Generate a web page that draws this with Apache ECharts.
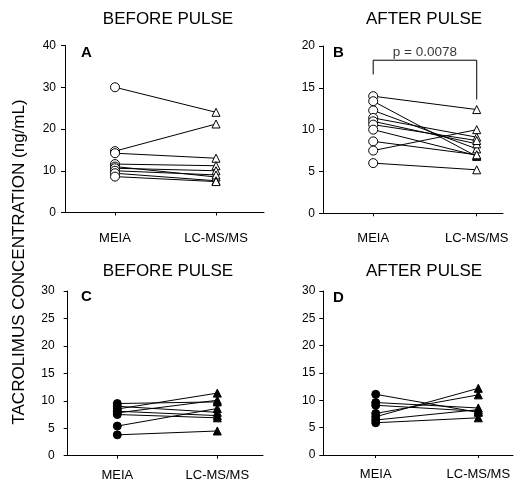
<!DOCTYPE html>
<html>
<head>
<meta charset="utf-8">
<script src="https://cdn.jsdelivr.net/npm/echarts@6/dist/echarts.min.js"></script>
<style>
  html, body { margin: 0; padding: 0; background: #fff; }
  #chart { width: 515px; height: 479px; }
</style>
</head>
<body>
<div id="chart"></div>
<script>
// ---- data ----
const categories = ['MEIA', 'LC-MS/MS'];
const panelTitles = ['BEFORE PULSE', 'AFTER PULSE', 'BEFORE PULSE', 'AFTER PULSE'];
const panelLetters = ['A', 'B', 'C', 'D'];
const yAxisTitle = 'TACROLIMUS CONCENTRATION (ng/mL)';

const aMEIA = [30.0, 14.7, 14.2, 11.6, 11.0, 10.6, 10.0, 9.4, 8.6];
const aLCMS = [24.0, 21.2, 13.0, 11.2, 8.5, 10.0, 9.0, 7.6, 7.4];

const bMEIA = [14.0, 13.4, 12.3, 11.4, 11.0, 10.6, 10.0, 8.6, 7.5, 6.0];
const bLCMS = [12.4, 6.8, 7.7, 9.1, 8.3, 8.7, 6.9, 7.0, 10.0, 5.2];

const cMEIA = [9.5, 9.0, 8.5, 8.1, 7.8, 7.5, 5.4, 3.8];
const cLCMS = [9.8, 7.9, 11.4, 7.3, 10.1, 6.9, 8.6, 4.5];

const dMEIA = [11.1, 9.6, 9.1, 7.6, 7.0, 6.4, 5.9];
const dLCMS = [7.8, 8.6, 8.0, 11.0, 12.2, 8.3, 6.8];

const yMax = [40, 20, 30, 30];
const yInterval = [10, 5, 5, 5];

const pBracketY = [16.6, 18.3, 18.3, 13.6];
const pLabel = 'p = 0.0078';
const pLabelY = 19.3;

// ---- layout ----
const FONT = 'Liberation Sans, Arial, Helvetica, sans-serif';
const grids = [
  { left: 65, top: 45.5, width: 199, height: 167 },
  { left: 323, top: 46, width: 180, height: 167.3 },
  { left: 67.7, top: 291, width: 195.3, height: 164.7 },
  { left: 323.3, top: 291, width: 189.7, height: 164 }
].map(g => Object.assign(g, { containLabel: false, outerBoundsMode: 'none' }));
const xRange = [[0.505, 2.475], [0.515, 2.254], [0.504, 2.457], [0.489, 2.338]];
const yLabelMargin = [9, 8, 13, 8];
const xLabelMargin = [19, 19, 13, 13];
const panelData = [[aMEIA, aLCMS], [bMEIA, bLCMS], [cMEIA, cLCMS], [dMEIA, dLCMS]];
const filled = [false, false, true, true];

const xAxes = [], yAxes = [], series = [];
for (let p = 0; p < 4; p++) {
  xAxes.push({
    gridIndex: p, type: 'value', min: xRange[p][0], max: xRange[p][1],
    axisLine: { show: true, onZero: false, lineStyle: { color: '#000', width: 1 } },
    axisTick: { show: true, length: 3, customValues: [1, 2], lineStyle: { color: '#000' } },
    axisLabel: { show: true, customValues: [1, 2], margin: xLabelMargin[p],
      formatter: v => categories[Math.round(v) - 1] || '',
      color: '#000', fontSize: 13, fontFamily: FONT },
    splitLine: { show: false }
  });
  yAxes.push({
    gridIndex: p, type: 'value', min: 0, max: yMax[p], interval: yInterval[p],
    axisLine: { show: true, onZero: false, lineStyle: { color: '#000', width: 1 } },
    axisTick: { show: true, length: 4, lineStyle: { color: '#000' } },
    axisLabel: { color: '#000', fontSize: 12, fontFamily: FONT, margin: yLabelMargin[p] },
    splitLine: { show: false }
  });
  const [m, l] = panelData[p];
  for (let i = 0; i < m.length; i++) {
    series.push({
      type: 'line', xAxisIndex: p, yAxisIndex: p, animation: false, silent: true,
      lineStyle: { color: '#000', width: 1 },
      itemStyle: filled[p] ? { color: '#000', borderColor: '#000', borderWidth: 1 }
                           : { color: '#fff', borderColor: '#000', borderWidth: 1 },
      data: [
        { value: [1, m[i]], symbol: 'circle', symbolSize: filled[p] ? 8 : 9 },
        { value: [2, l[i]], symbol: 'triangle', symbolSize: 8 }
      ],
      z: 2
    });
  }
}
// p-value bracket in panel B
series.push({
  type: 'line', xAxisIndex: 1, yAxisIndex: 1, animation: false, silent: true,
  symbol: 'none', lineStyle: { color: '#000', width: 1 },
  data: [[1, pBracketY[0]], [1, pBracketY[1]], [2, pBracketY[2]], [2, pBracketY[3]]]
});
series.push({
  type: 'scatter', xAxisIndex: 1, yAxisIndex: 1, animation: false, silent: true,
  symbolSize: 1, itemStyle: { color: 'rgba(0,0,0,0)' },
  label: { show: true, position: 'inside', formatter: pLabel, color: '#000', fontSize: 13.5, fontFamily: FONT },
  data: [[1.5, pLabelY]]
});

const titlePos = [[168, 19], [424, 19], [168, 271], [424, 271]];
const letterPos = [[81, 53], [333, 53], [81, 297], [333, 298]];
const graphics = [];
for (let p = 0; p < 4; p++) {
  graphics.push({ type: 'text', x: titlePos[p][0], y: titlePos[p][1],
    style: { text: panelTitles[p], fill: '#000', font: '17px ' + FONT, textAlign: 'center', textVerticalAlign: 'middle' } });
  graphics.push({ type: 'text', x: letterPos[p][0], y: letterPos[p][1],
    style: { text: panelLetters[p], fill: '#000', font: 'bold 15px ' + FONT, textAlign: 'left', textVerticalAlign: 'middle' } });
}
graphics.push({ type: 'text', x: 19, y: 262, rotation: Math.PI / 2,
  style: { text: yAxisTitle, fill: '#000', font: '17px ' + FONT, textAlign: 'center', textVerticalAlign: 'middle' } });

const chart = echarts.init(document.getElementById('chart'), null, { renderer: 'canvas' });
chart.setOption({
  animation: false,
  backgroundColor: '#fff',
  grid: grids,
  xAxis: xAxes,
  yAxis: yAxes,
  series: series,
  graphic: graphics
});
</script>
</body>
</html>
